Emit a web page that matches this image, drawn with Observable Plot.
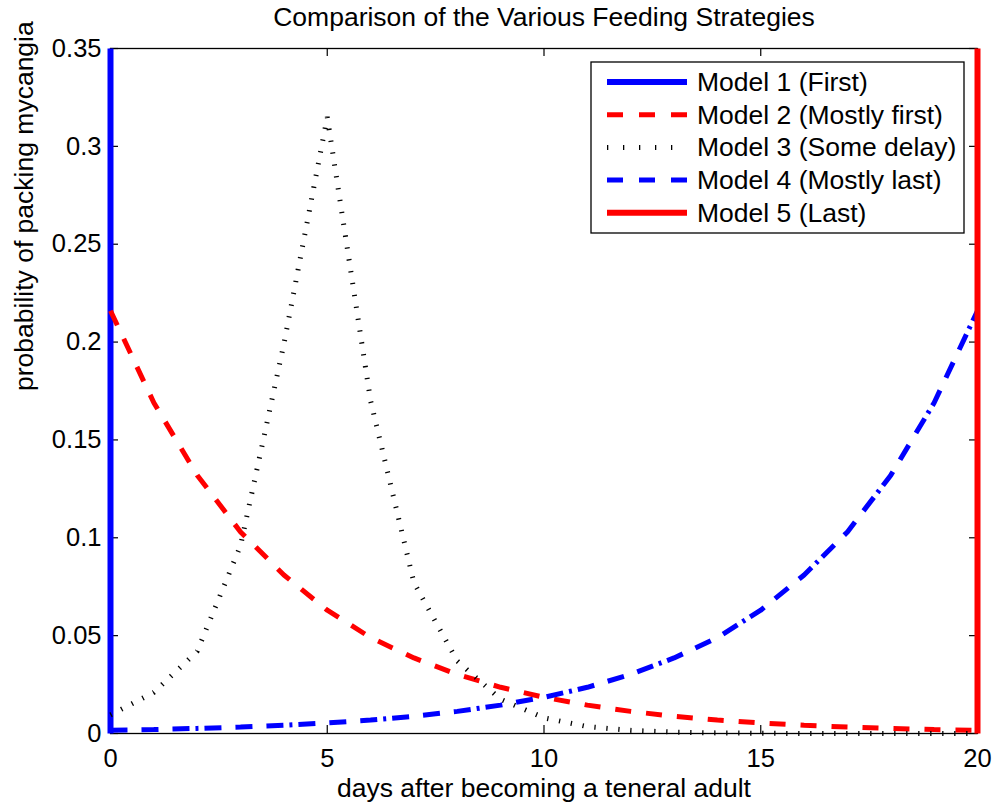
<!DOCTYPE html>
<html>
<head>
<meta charset="utf-8">
<script src="https://cdn.jsdelivr.net/npm/d3@7"></script>
<script src="https://cdn.jsdelivr.net/npm/@observablehq/plot@0.6"></script>
<style>
  html, body { margin: 0; padding: 0; background: #fff; }
  #chart { position: relative; width: 995px; height: 804px; }
  svg { font-family: "Liberation Sans", Arial, Helvetica, sans-serif; }
</style>
</head>
<body>
<div id="chart"></div>
<script>
// ---------------- data ----------------
const title = "Comparison of the Various Feeding Strategies";
const xLabel = "days after becoming a teneral adult";
const yLabel = "probability of packing mycangia";

const days = [0, 1, 2, 3, 4, 5, 6, 7, 8, 9, 10, 11, 12, 13, 14, 15, 16, 17, 18, 19, 20];

// Model 1 (First): all mass on day 0 (vertical line)
const model1Days = [0, 0];
const model1Prob = [0, 0.35];

// Model 2 (Mostly first)
const model2 = [0.216, 0.169, 0.132, 0.103, 0.081, 0.063, 0.049, 0.0386, 0.0302, 0.0236, 0.0185,
                0.0145, 0.0113, 0.0088, 0.0069, 0.0054, 0.0042, 0.0033, 0.0026, 0.0020, 0.0016];

// Model 3 (Some delay)
const model3 = [0.0095, 0.021, 0.042, 0.096, 0.199, 0.315, 0.170, 0.077, 0.037, 0.0175, 0.008,
                0.0035, 0.0016, 0.0007, 0.0003, 0.0001, 0, 0, 0, 0, 0];

// Model 4 (Mostly last)
const model4 = [0.0016, 0.0020, 0.0026, 0.0033, 0.0042, 0.0054, 0.0069, 0.0088, 0.0113, 0.0145, 0.0185,
                0.0236, 0.0302, 0.0386, 0.049, 0.063, 0.081, 0.103, 0.132, 0.169, 0.216];

// Model 5 (Last): all mass on day 20 (vertical line)
const model5Days = [20, 20];
const model5Prob = [0, 0.35];

const legendLabels = ["Model 1 (First)", "Model 2 (Mostly first)", "Model 3 (Some delay)", "Model 4 (Mostly last)", "Model 5 (Last)"];

const xTicks = [0, 5, 10, 15, 20];
const yTicks = [0, 0.05, 0.1, 0.15, 0.2, 0.25, 0.3, 0.35];
const yTickLabels = ["0", "0.05", "0.1", "0.15", "0.2", "0.25", "0.3", "0.35"];

// ---------------- styles ----------------
const BLUE = "#0000ff", RED = "#ff0000", BLACK = "#000000";
const styles = [
  {stroke: BLUE, strokeWidth: 6, dash: null},
  {stroke: RED, strokeWidth: 5, dash: "16,15"},
  {stroke: BLACK, strokeWidth: 5, dash: "1.3,10.7"},
  {stroke: BLUE, strokeWidth: 5, dash: "17,14,17,14,17,6,3,6"},
  {stroke: RED, strokeWidth: 6, dash: null}
];
const legendDash = [null, "16,16", "1.3,14.7", "16,16", null];

const W = 995, H = 804;
const M = {top: 48, right: 18, bottom: 71, left: 110};
const frameW = W - M.left - M.right;
const frameH = H - M.top - M.bottom;
const FONT = 26.5;
const tickLen = 8;

const toPts = (xs, ys) => xs.map((x, i) => ({x, y: ys[i]}));
const series = [
  toPts(model1Days, model1Prob),
  toPts(days, model2),
  toPts(days, model3),
  toPts(days, model4),
  toPts(model5Days, model5Prob)
];

const lineMarks = series.map((pts, i) => Plot.line(pts, {
  x: "x", y: "y",
  stroke: styles[i].stroke,
  strokeWidth: styles[i].strokeWidth,
  strokeDasharray: styles[i].dash,
  strokeLinecap: "butt",
  strokeLinejoin: "miter"
}));

const chart = Plot.plot({
  width: W, height: H,
  marginTop: M.top, marginRight: M.right, marginBottom: M.bottom, marginLeft: M.left,
  style: {fontFamily: '"Liberation Sans", Arial, Helvetica, sans-serif', background: "#fff", color: "#000"},
  x: {domain: [0, 20]},
  y: {domain: [0, 0.35]},
  marks: [
    Plot.frame({stroke: BLACK, strokeWidth: 1.3}),
    // inward ticks on all four sides
    Plot.tickX(xTicks, {x: d => d, insetTop: frameH - tickLen, stroke: BLACK, strokeWidth: 1.2}),
    Plot.tickX(xTicks, {x: d => d, insetBottom: frameH - tickLen, stroke: BLACK, strokeWidth: 1.2}),
    Plot.tickY(yTicks, {y: d => d, insetRight: frameW - tickLen, stroke: BLACK, strokeWidth: 1.2}),
    Plot.tickY(yTicks, {y: d => d, insetLeft: frameW - tickLen, stroke: BLACK, strokeWidth: 1.2}),
    Plot.axisX({ticks: xTicks, tickSize: 0, tickPadding: 15, fontSize: 25.5, label: null, tickFormat: d => String(d)}),
    Plot.axisY({ticks: yTicks, tickSize: 0, tickPadding: 9, fontSize: 25.5, label: null,
                tickFormat: d => yTickLabels[yTicks.indexOf(d)]}),
    ...lineMarks,
    Plot.text([title], {text: d => d, frameAnchor: "top", lineAnchor: "middle", dy: -31, fontSize: FONT, fill: BLACK}),
    Plot.text([xLabel], {text: d => d, frameAnchor: "bottom", lineAnchor: "middle", dy: 55, fontSize: FONT, fill: BLACK}),
    Plot.text([yLabel], {text: d => d, frameAnchor: "left", lineAnchor: "middle", rotate: -90, dx: -86, fontSize: FONT, fill: BLACK})
  ]
});

document.getElementById("chart").appendChild(chart);

// ---------------- legend ----------------
const svg = d3.select(chart);
const lg = svg.append("g").attr("transform", "translate(591,62)");
lg.append("rect").attr("width", 373).attr("height", 171)
  .attr("fill", "#fff").attr("stroke", BLACK).attr("stroke-width", 1.3);
const rowY0 = 20, rowStep = 32.7;
legendLabels.forEach((lab, i) => {
  const y = rowY0 + i * rowStep;
  lg.append("line").attr("x1", 16).attr("x2", 96).attr("y1", y).attr("y2", y)
    .attr("stroke", styles[i].stroke).attr("stroke-width", styles[i].strokeWidth)
    .attr("stroke-dasharray", legendDash[i]);
  lg.append("text").attr("x", 106).attr("y", y).attr("dy", "0.34em")
    .attr("text-anchor", "start")
    .attr("font-size", FONT).attr("fill", BLACK).text(lab);
});
</script>
</body>
</html>
